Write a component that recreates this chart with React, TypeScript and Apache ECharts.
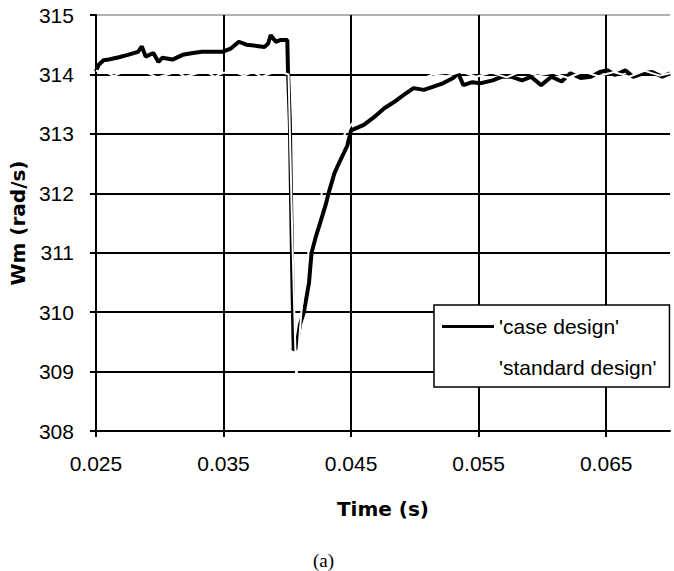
import React, { useEffect, useRef } from "react";
import * as echarts from "echarts";

// Time (s) and rotor speed Wm (rad/s)
const caseTime = [
  0.025, 0.0252, 0.0256, 0.026, 0.0268, 0.0275, 0.0283, 0.0286, 0.0289, 0.0295,
  0.0299, 0.0302, 0.031, 0.0318, 0.0326, 0.0333, 0.0341, 0.0349, 0.0356, 0.0362,
  0.0368, 0.0376, 0.0382, 0.0385, 0.0387, 0.0391, 0.0395, 0.04, 0.04005, 0.0402,
  0.0404, 0.0405, 0.0407, 0.041, 0.0413, 0.0417, 0.0419, 0.0422, 0.0426, 0.043,
  0.0433, 0.0437, 0.0441, 0.0447, 0.045, 0.046, 0.0468, 0.0476, 0.0484, 0.0491,
  0.0499, 0.0507, 0.0514, 0.0522, 0.053, 0.0534, 0.0538, 0.0545, 0.0551, 0.0561,
  0.0568, 0.0576, 0.0584, 0.0591, 0.0599, 0.0607, 0.0615, 0.0622, 0.063, 0.0638,
  0.0645, 0.0651, 0.0657, 0.0665, 0.0671, 0.0679, 0.0686, 0.0694, 0.07,
];
const caseWm = [
  314.05, 314.16, 314.24, 314.25, 314.29, 314.33, 314.38, 314.47, 314.3, 314.36,
  314.21, 314.28, 314.25, 314.33, 314.36, 314.38, 314.38, 314.38, 314.44, 314.55,
  314.5, 314.48, 314.46, 314.52, 314.66, 314.55, 314.58, 314.58, 314.1, 313.2,
  310.5, 309.36, 309.4, 309.8, 310.0, 310.49, 311.0, 311.24, 311.52, 311.8,
  312.05, 312.34, 312.53, 312.8, 313.06, 313.15, 313.28, 313.43, 313.54, 313.65,
  313.77, 313.74, 313.79, 313.85, 313.94, 314.02, 313.82, 313.87, 313.85, 313.9,
  313.96, 313.96, 313.9, 313.96, 313.82, 313.96, 313.88, 314.02, 313.94, 313.96,
  314.04, 314.07, 313.99, 314.07, 313.96, 314.02, 314.04, 313.96, 314.02,
];

const stdTime = [
  0.025, 0.0257, 0.0264, 0.0271, 0.028, 0.029, 0.0298, 0.0306, 0.0313, 0.032,
  0.0328, 0.0336, 0.0343, 0.035, 0.0358, 0.0366, 0.0373, 0.038, 0.0387, 0.0394,
  0.0401, 0.0404, 0.0407, 0.0411, 0.04165, 0.0422, 0.0427, 0.0436, 0.0445, 0.0455,
  0.0464, 0.0478, 0.0491, 0.0503, 0.0514, 0.0525, 0.0536, 0.0548, 0.056, 0.0572,
  0.0584, 0.0596, 0.0608, 0.062, 0.0632, 0.0644, 0.0656, 0.0668, 0.068, 0.0692,
  0.07,
];
const stdWm = [
  314.06, 314.05, 313.97, 314.04, 314.06, 314.03, 313.95, 314.0, 314.05, 313.96,
  314.01, 314.06, 313.96, 314.03, 314.05, 313.98, 314.04, 313.96, 314.02, 314.05,
  314.0, 311.2, 308.85, 310.0, 311.0, 311.5, 312.0, 312.55, 313.0, 313.3,
  313.5, 313.7, 313.8, 313.9, 314.0, 313.97, 314.05, 313.96, 314.03, 313.95,
  314.06, 313.98, 314.03, 313.94, 314.05, 313.97, 314.04, 313.96, 314.06, 313.98,
  314.02,
];

const seriesNames = ["'case design'", "'standard design'"];
const xTicks = [0.025, 0.035, 0.045, 0.055, 0.065];
const xTitle = "Time (s)";
const yTitle = "Wm (rad/s)";
const caption = "(a)";

const zip = (xs: number[], ys: number[]) => xs.map((x, i) => [x, ys[i]]);

export default function App() {
  const ref = useRef<HTMLDivElement>(null);
  useEffect(() => {
    document.body.style.margin = "0";
    const chart = echarts.init(ref.current!, undefined, { renderer: "svg" });
    const labelFont = { fontFamily: "Liberation Sans", fontSize: 21, color: "#000" };
    const titleFont = { fontFamily: "DejaVu Sans", fontWeight: "bold" as const, fontSize: 20, color: "#000" };
    chart.setOption({
      animation: false,
      backgroundColor: "#fff",
      grid: { left: 87, right: 4, top: 15, bottom: 140, containLabel: false },
      legend: {
        orient: "vertical",
        left: 434,
        top: 305,
        data: seriesNames,
        icon: "rect",
        itemWidth: 52,
        itemHeight: 3,
        itemGap: 20,
        padding: [11, 13, 9, 8],
        backgroundColor: "#fff",
        borderColor: "#000",
        borderWidth: 1.5,
        textStyle: { ...labelFont, lineHeight: 21 },
      },
      xAxis: {
        type: "value",
        min: 0.025,
        max: 0.07,
        interval: 0.01,
        name: xTitle,
        nameLocation: "middle",
        nameGap: 68,
        nameTextStyle: titleFont,
        axisLine: { show: true, lineStyle: { color: "#000", width: 2 } },
        axisTick: { show: true, length: 6, customValues: xTicks, lineStyle: { color: "#000", width: 2 } },
        axisLabel: { ...labelFont, margin: 22, customValues: xTicks, formatter: (v: number) => v.toFixed(3) },
        splitLine: {
          show: true,
          lineStyle: { color: ["#000", "#000", "#000", "#000", "#000", "#b0b0b0"], width: 2 },
        },
      },
      yAxis: {
        type: "value",
        min: 308,
        max: 315,
        interval: 1,
        name: yTitle,
        nameLocation: "middle",
        nameGap: 63,
        nameTextStyle: titleFont,
        axisLine: { show: true, lineStyle: { color: "#000", width: 2 } },
        axisTick: { show: true, length: 6, lineStyle: { color: "#000", width: 2 } },
        axisLabel: { ...labelFont, margin: 22 },
        splitLine: {
          show: true,
          lineStyle: {
            color: ["#000", "#000", "#000", "#000", "#000", "#000", "#000", "#b0b0b0"],
            width: 2,
          },
        },
      },
      graphic: [
        {
          type: "text",
          left: 313,
          top: 551,
          style: { text: caption, fontFamily: "Liberation Serif", fontSize: 19, fill: "#000" },
        },
      ],
      series: [
        {
          name: seriesNames[0],
          type: "line",
          data: zip(caseTime, caseWm),
          showSymbol: false,
          symbol: "none",
          color: "#000",
          lineStyle: { color: "#000", width: 4 },
          z: 3,
        },
        {
          name: seriesNames[1],
          type: "line",
          data: zip(stdTime, stdWm),
          showSymbol: false,
          symbol: "none",
          color: "#ffffff",
          lineStyle: { color: "#ffffff", width: 2 },
          z: 4,
        },
      ],
    });
    return () => chart.dispose();
  }, []);
  return <div ref={ref} style={{ width: 674, height: 571 }} />;
}
